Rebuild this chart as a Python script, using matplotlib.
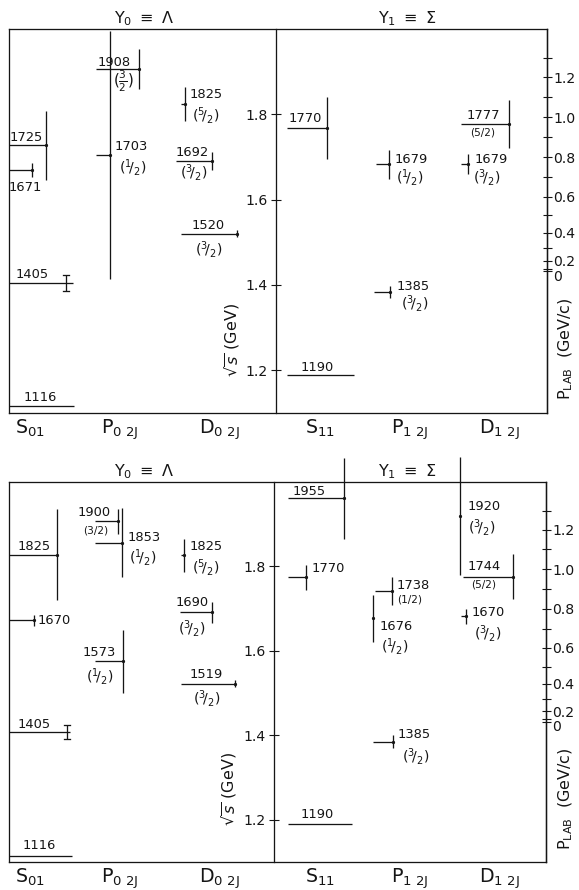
"""Hyperon (Y0 = Lambda, Y1 = Sigma) resonance levels: two mass-spectrum panels.

Each state is a horizontal line at its mass with a vertical bar of length Gamma.
Middle axis is sqrt(s) in GeV, right axis is the equivalent K-p lab momentum.
"""

import numpy as np
import matplotlib
matplotlib.use("Agg")
import matplotlib.pyplot as plt
from matplotlib.ticker import FixedLocator
from matplotlib.transforms import ScaledTranslation

W_PX, H_PX, DPI = 579, 890, 72      # 1 pt == 1 px at this dpi
INK = "#151515"
LW = 1.3
MK, MP = 0.4937, 0.9383             # kaon, proton masses (GeV)

# ── Data: upper chart ─────────────────────────────────────────────────────────
top_names = ["1116", "1405", "1725", "1671", "1908", "1703", "1825", "1692", "1520",
             "1770", "1190", "1679", "1385", "1777", "1679"]
top_mass  = [1.116, 1.404, 1.727, 1.669, 1.906, 1.705, 1.824, 1.691, 1.520,
             1.768, 1.188, 1.683, 1.383, 1.777, 1.683]
top_width = [0.0, 0.037, 0.160, 0.033, 0.095, 0.580, 0.080, 0.042, 0.016,
             0.147, 0.0, 0.067, 0.028, 0.114, 0.047]
top_spin  = ["", "", "", "", "3/2", "1/2", "5/2", "3/2", "3/2",
             "", "", "1/2", "3/2", "5/2", "3/2"]

# ── Data: lower chart ─────────────────────────────────────────────────────────
bot_names = ["1825", "1670", "1405", "1116", "1900", "1853", "1573", "1825", "1690", "1519",
             "1955", "1770", "1190", "1738", "1676", "1385", "1920", "1744", "1670"]
bot_mass  = [1.828, 1.672, 1.407, 1.115, 1.907, 1.856, 1.575, 1.826, 1.691, 1.522,
             1.961, 1.774, 1.191, 1.741, 1.677, 1.385, 1.920, 1.776, 1.682]
bot_width = [0.217, 0.024, 0.033, 0.0, 0.060, 0.164, 0.150, 0.080, 0.050, 0.016,
             0.190, 0.060, 0.0, 0.067, 0.110, 0.030, 0.280, 0.107, 0.035]
bot_spin  = ["", "", "", "", "3/2", "1/2", "1/2", "5/2", "3/2", "3/2",
             "", "", "", "1/2", "1/2", "3/2", "3/2", "5/2", "3/2"]

# axis labels / ticks
col_labels   = [r"S$_{\mathrm{01}}$", r"P$_{\mathrm{0\ 2J}}$", r"D$_{\mathrm{0\ 2J}}$",
                r"S$_{\mathrm{11}}$", r"P$_{\mathrm{1\ 2J}}$", r"D$_{\mathrm{1\ 2J}}$"]
titles       = [r"Y$_0$ $\equiv$ $\Lambda$", r"Y$_1$ $\equiv$ $\Sigma$"]
sqrts_ticks  = [1.2, 1.4, 1.6, 1.8]
plab_ticks   = [0.0, 0.2, 0.4, 0.6, 0.8, 1.0, 1.2]
plab_minor   = [0.1, 0.3, 0.5, 0.7, 0.9, 1.1, 1.3]

# ── Layout (figure pixels) ────────────────────────────────────────────────────
# lines: (x start of horizontal, x end of horizontal, x of width bar, caps?)
top_lines = [(9, 74, None, False), (9, 73, 66, True), (9, 46, 46, False), (9, 32, 32, False),
             (96, 139, 139, False), (96, 110, 110, False), (181, 185, 185, False),
             (176, 212, 212, False), (181, 238, 237, False),
             (287, 327, 327, False), (287, 354, None, False), (376, 389, 389, False),
             (374, 390, 390, False), (461, 509, 509, False), (461, 468, 468, False)]
# label positions: (x, dy in pt, ha)
top_name_pos = [(40, 9, "center"), (32, 9, "center"), (26, 8, "center"), (25, -17, "center"),
                (114, 7, "center"), (115, 8, "left"), (190, 10, "left"), (192, 8, "center"),
                (208, 8, "center"),
                (305, 9, "center"), (317, 8, "center"), (395, 5, "left"), (397, 6, "left"),
                (483, 9, "center"), (475, 5, "left")]
top_spin_pos = [None, None, None, None,
                (123, -12, "center"), (133, -13, "center"), (206, -11, "center"),
                (194, -12, "center"), (209, -16, "center"),
                None, None, (410, -13, "center"), (415, -11, "center"),
                (483, -8, "center"), (487, -13, "center")]
# spin lettering: "stack" = stacked fraction, "split" = sup/sub, "plain" = small (n/2)
top_spin_style = [None, None, None, None, "stack", "split", "split", "split", "split",
                  None, None, "split", "split", "plain", "split"]

bot_lines = [(9, 57, 57, False), (9, 34, 34, False), (9, 70, 67, True), (9, 72, None, False),
             (95, 118, 118, False), (95, 122, 122, False), (95, 123, 123, False),
             (181, 184, 184, False), (180, 212, 212, False), (181, 235, 235, False),
             (288, 344, 344, False), (288, 306, 306, False), (288, 352, None, False),
             (375, 392, 392, False), (None, 373, 373, False), (373, 393, 393, False),
             (None, 460, 460, False), (463, 513, 513, False), (461, 466, 466, False)]
bot_name_pos = [(34, 8, "center"), (38, 0, "left"), (34, 8, "center"), (39, 10, "center"),
                (94, 9, "center"), (128, 5, "left"), (99, 9, "center"), (190, 9, "left"),
                (192, 10, "center"), (206, 9, "center"),
                (309, 7, "center"), (312, 9, "left"), (317, 9, "center"), (397, 6, "left"),
                (380, -8, "left"), (398, 7, "left"), (468, 9, "left"), (484, 10, "center"),
                (472, 4, "left")]
bot_spin_pos = [None, None, None, None,
                (96, -9, "center"), (143, -15, "center"), (100, -15, "center"),
                (206, -12, "center"), (192, -16, "center"), (207, -15, "center"),
                None, None, None, (397, -8, "left"), (395, -28, "center"),
                (416, -15, "center"), (482, -12, "center"), (484, -8, "center"),
                (488, -17, "center")]
bot_spin_style = [None, None, None, None, "plain", "split", "split", "split", "split", "split",
                  None, None, None, "plain", "split", "split", "split", "plain", "split"]

col_x = [30, 120, 219, 320, 410, 499]
title_x = [144, 407]


# ── Helpers ───────────────────────────────────────────────────────────────────

def s_to_p(w):
    """sqrt(s) -> K- lab momentum (negative branch below threshold keeps it monotonic)."""
    w = np.asarray(w, dtype=float)
    e = (w ** 2 - MK ** 2 - MP ** 2) / (2 * MP)
    d = e ** 2 - MK ** 2
    return np.sign(d) * np.sqrt(np.abs(d))


def p_to_s(p):
    p = np.asarray(p, dtype=float)
    e = np.sqrt(np.abs(MK ** 2 + np.sign(p) * p ** 2))
    return np.sqrt(MK ** 2 + MP ** 2 + 2 * MP * e)


def spin_text(spin, style):
    num, den = spin.split("/")
    if style == "stack":
        return rf"$(\frac{{{num}}}{{{den}}})$", 15
    if style == "split":
        return rf"$(^{{{num}}}\!/_{{{den}}})$", 14
    return f"({spin})", 10.5


def make_panel(fig, top_px, bot_px, right_px, div_px):
    left_px = 9
    rect = [left_px / W_PX, 1 - bot_px / H_PX, (right_px - left_px) / W_PX, (bot_px - top_px) / H_PX]
    ax = fig.add_axes(rect)
    ax.set_xlim(left_px, right_px)
    ax.set_ylim(1.1, 2.0)
    ax.set_xticks([])
    ax.set_yticks([])
    for sp in ax.spines.values():
        sp.set_linewidth(LW)
        sp.set_color(INK)

    mid = ax.secondary_yaxis((div_px - left_px) / (right_px - left_px))
    mid.set_yticks(sqrts_ticks, labels=[f"{t:.1f}" for t in sqrts_ticks])
    mid.tick_params(direction="inout", length=10, width=1.1, labelsize=14, pad=3, colors=INK)
    for sp in mid.spines.values():
        sp.set_linewidth(LW)
        sp.set_color(INK)

    rax = ax.secondary_yaxis("right", functions=(s_to_p, p_to_s))
    rax.set_yticks(plab_ticks, labels=["0" if t == 0 else f"{t:.1f}" for t in plab_ticks])
    rax.yaxis.set_minor_locator(FixedLocator(plab_minor))
    rax.tick_params(which="both", direction="inout", length=9, width=1.1, labelsize=14,
                    pad=2, colors=INK)
    # the "0" label sits just under "0.2" in the original lettering
    zero = rax.get_yticklabels()[0]
    zero.set_transform(zero.get_transform() + ScaledTranslation(0, -4 / DPI, fig.dpi_scale_trans))
    for sp in rax.spines.values():
        sp.set_linewidth(LW)
        sp.set_color(INK)
    return ax


def draw_states(ax, names, mass, width, spins, lines, name_pos, spin_pos, spin_style):
    for i, m in enumerate(mass):
        x0, x1, xb, cap = lines[i]
        if x0 is not None:
            ax.plot([x0, x1], [m, m], color=INK, lw=LW, clip_on=False, solid_capstyle="butt")
        if xb is not None and width[i] > 0:
            lo, hi = m - width[i] / 2, m + width[i] / 2
            ax.plot([xb, xb], [lo, hi], color=INK, lw=LW, clip_on=False, solid_capstyle="butt")
            if cap:
                for yy in (lo, hi):
                    ax.plot([xb - 3, xb + 3], [yy, yy], color=INK, lw=LW, clip_on=False)
            else:
                ax.plot([xb], [m], marker="o", ms=2.2, color=INK, clip_on=False)
        nx, ndy, nha = name_pos[i]
        ax.annotate(names[i], (nx, m), xytext=(0, ndy), textcoords="offset points",
                    ha=nha, va="center", fontsize=13, color=INK, annotation_clip=False)
        if spins[i]:
            sx, sdy, sha = spin_pos[i]
            txt, fs = spin_text(spins[i], spin_style[i])
            ax.annotate(txt, (sx, m), xytext=(0, sdy), textcoords="offset points",
                        ha=sha, va="center", fontsize=fs, color=INK, annotation_clip=False)


def decorate(ax, sqrt_x, sqrt_y):
    for x, lab in zip(col_x, col_labels):
        ax.annotate(lab, (x, 0), xycoords=("data", "axes fraction"), xytext=(0, -21),
                    textcoords="offset points", ha="center", va="baseline", fontsize=19,
                    color=INK, annotation_clip=False)
    for x, lab in zip(title_x, titles):
        ax.annotate(lab, (x, 1), xycoords=("data", "axes fraction"), xytext=(0, 6),
                    textcoords="offset points", ha="center", va="baseline", fontsize=16,
                    color=INK, annotation_clip=False)
    ax.text(sqrt_x, sqrt_y, r"$\sqrt{s}$ (GeV)", rotation=90, ha="center", va="center",
            fontsize=16, color=INK)
    ax.text(566, 1.25, r"P$_{\mathrm{LAB}}$  (GeV/c)", rotation=90, ha="center", va="center",
            fontsize=16, color=INK, clip_on=False)


# ── Main ──────────────────────────────────────────────────────────────────────

fig = plt.figure(figsize=(W_PX / DPI, H_PX / DPI), dpi=DPI)
fig.patch.set_facecolor("white")

ax_top = make_panel(fig, top_px=29, bot_px=413, right_px=547, div_px=276)
draw_states(ax_top, top_names, top_mass, top_width, top_spin, top_lines,
            top_name_pos, top_spin_pos, top_spin_style)
decorate(ax_top, 232, 1.27)

ax_bot = make_panel(fig, top_px=482, bot_px=862, right_px=546, div_px=274)
draw_states(ax_bot, bot_names, bot_mass, bot_width, bot_spin, bot_lines,
            bot_name_pos, bot_spin_pos, bot_spin_style)
decorate(ax_bot, 229, 1.272)

fig.savefig("out.png", dpi=DPI, facecolor="white")
